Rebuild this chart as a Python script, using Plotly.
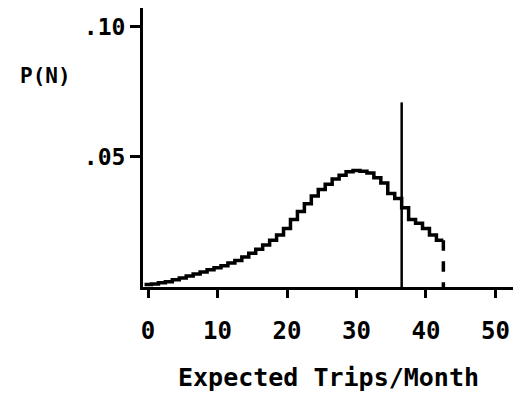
import plotly.graph_objects as go

# Expected trips per month (histogram bins, 1 trip wide) and probability P(N)
trips = list(range(0, 43))
prob = [0.0010, 0.0012, 0.0016, 0.0020, 0.0028, 0.0035, 0.0042, 0.0050, 0.0058,
        0.0066, 0.0074, 0.0082, 0.0092, 0.0102, 0.0115, 0.0130, 0.0145, 0.0162,
        0.0180, 0.0200, 0.0225, 0.0260, 0.0290, 0.0320, 0.0350, 0.0375, 0.0395,
        0.0415, 0.0430, 0.0443, 0.0448, 0.0445, 0.0438, 0.0420, 0.0400, 0.0360,
        0.0340, 0.0305, 0.0260, 0.0245, 0.0225, 0.0200, 0.0180]

cutoff = 36.5          # vertical marker line
cutoff_height = 0.071

x_ticks = [0, 10, 20, 30, 40, 50]
x_ticklabels = ["0", "10", "20", "30", "40", "50"]
y_ticks = [0.05, 0.10]
y_ticklabels = [".05", ".10"]

FONT = "DejaVu Sans Mono"

edges = [n - 0.5 for n in trips] + [trips[-1] + 0.5]
step_y = prob + [prob[-1]]

fig = go.Figure()
fig.add_trace(go.Scatter(x=edges, y=step_y, mode="lines", line_shape="hv",
                         line=dict(color="black", width=3.5), showlegend=False,
                         cliponaxis=False))
fig.add_trace(go.Scatter(x=[edges[-1], edges[-1]], y=[prob[-1], 0], mode="lines",
                         line=dict(color="black", width=3.5, dash="dash"),
                         showlegend=False))
fig.add_trace(go.Scatter(x=[cutoff, cutoff], y=[0, cutoff_height], mode="lines",
                         line=dict(color="black", width=2.5), showlegend=False))

fig.update_layout(
    width=513, height=393,
    margin=dict(l=143, r=0, t=8, b=106, autoexpand=False),
    paper_bgcolor="white", plot_bgcolor="white",
    font=dict(family=FONT, color="black", size=22),
    xaxis=dict(range=[-0.72, 52.52], showgrid=False, zeroline=False, automargin=False,
               showline=True, linecolor="black", linewidth=3,
               tickmode="array", tickvals=x_ticks, ticktext=x_ticklabels,
               ticks="outside", ticklen=8, tickwidth=3, tickcolor="black",
               ticklabelstandoff=12,
               tickfont=dict(family=FONT, size=24, color="black", weight="bold")),
    yaxis=dict(range=[0, 0.1073], showgrid=False, zeroline=False, automargin=False,
               showline=True, linecolor="black", linewidth=3,
               tickmode="array", tickvals=y_ticks, ticktext=y_ticklabels,
               ticks="outside", ticklen=10, tickwidth=3, tickcolor="black",
               tickfont=dict(family=FONT, size=23, color="black", weight="bold")),
    annotations=[
        dict(text="Expected Trips/Month", xref="paper", yref="paper", x=0.5, y=0,
             yshift=-90, xanchor="center", yanchor="middle", showarrow=False,
             font=dict(family=FONT, size=25, color="black", weight="bold")),
        dict(text="P(N)", xref="paper", yref="paper", x=(45 - 143) / 370,
             y=(287 - 76) / 279, xanchor="center", yanchor="middle", showarrow=False,
             font=dict(family=FONT, size=21, color="black", weight="bold")),
    ],
)

fig.write_html("out.html", config={"displayModeBar": False},
               post_script="document.body.style.margin='0';document.body.style.padding='0';")
